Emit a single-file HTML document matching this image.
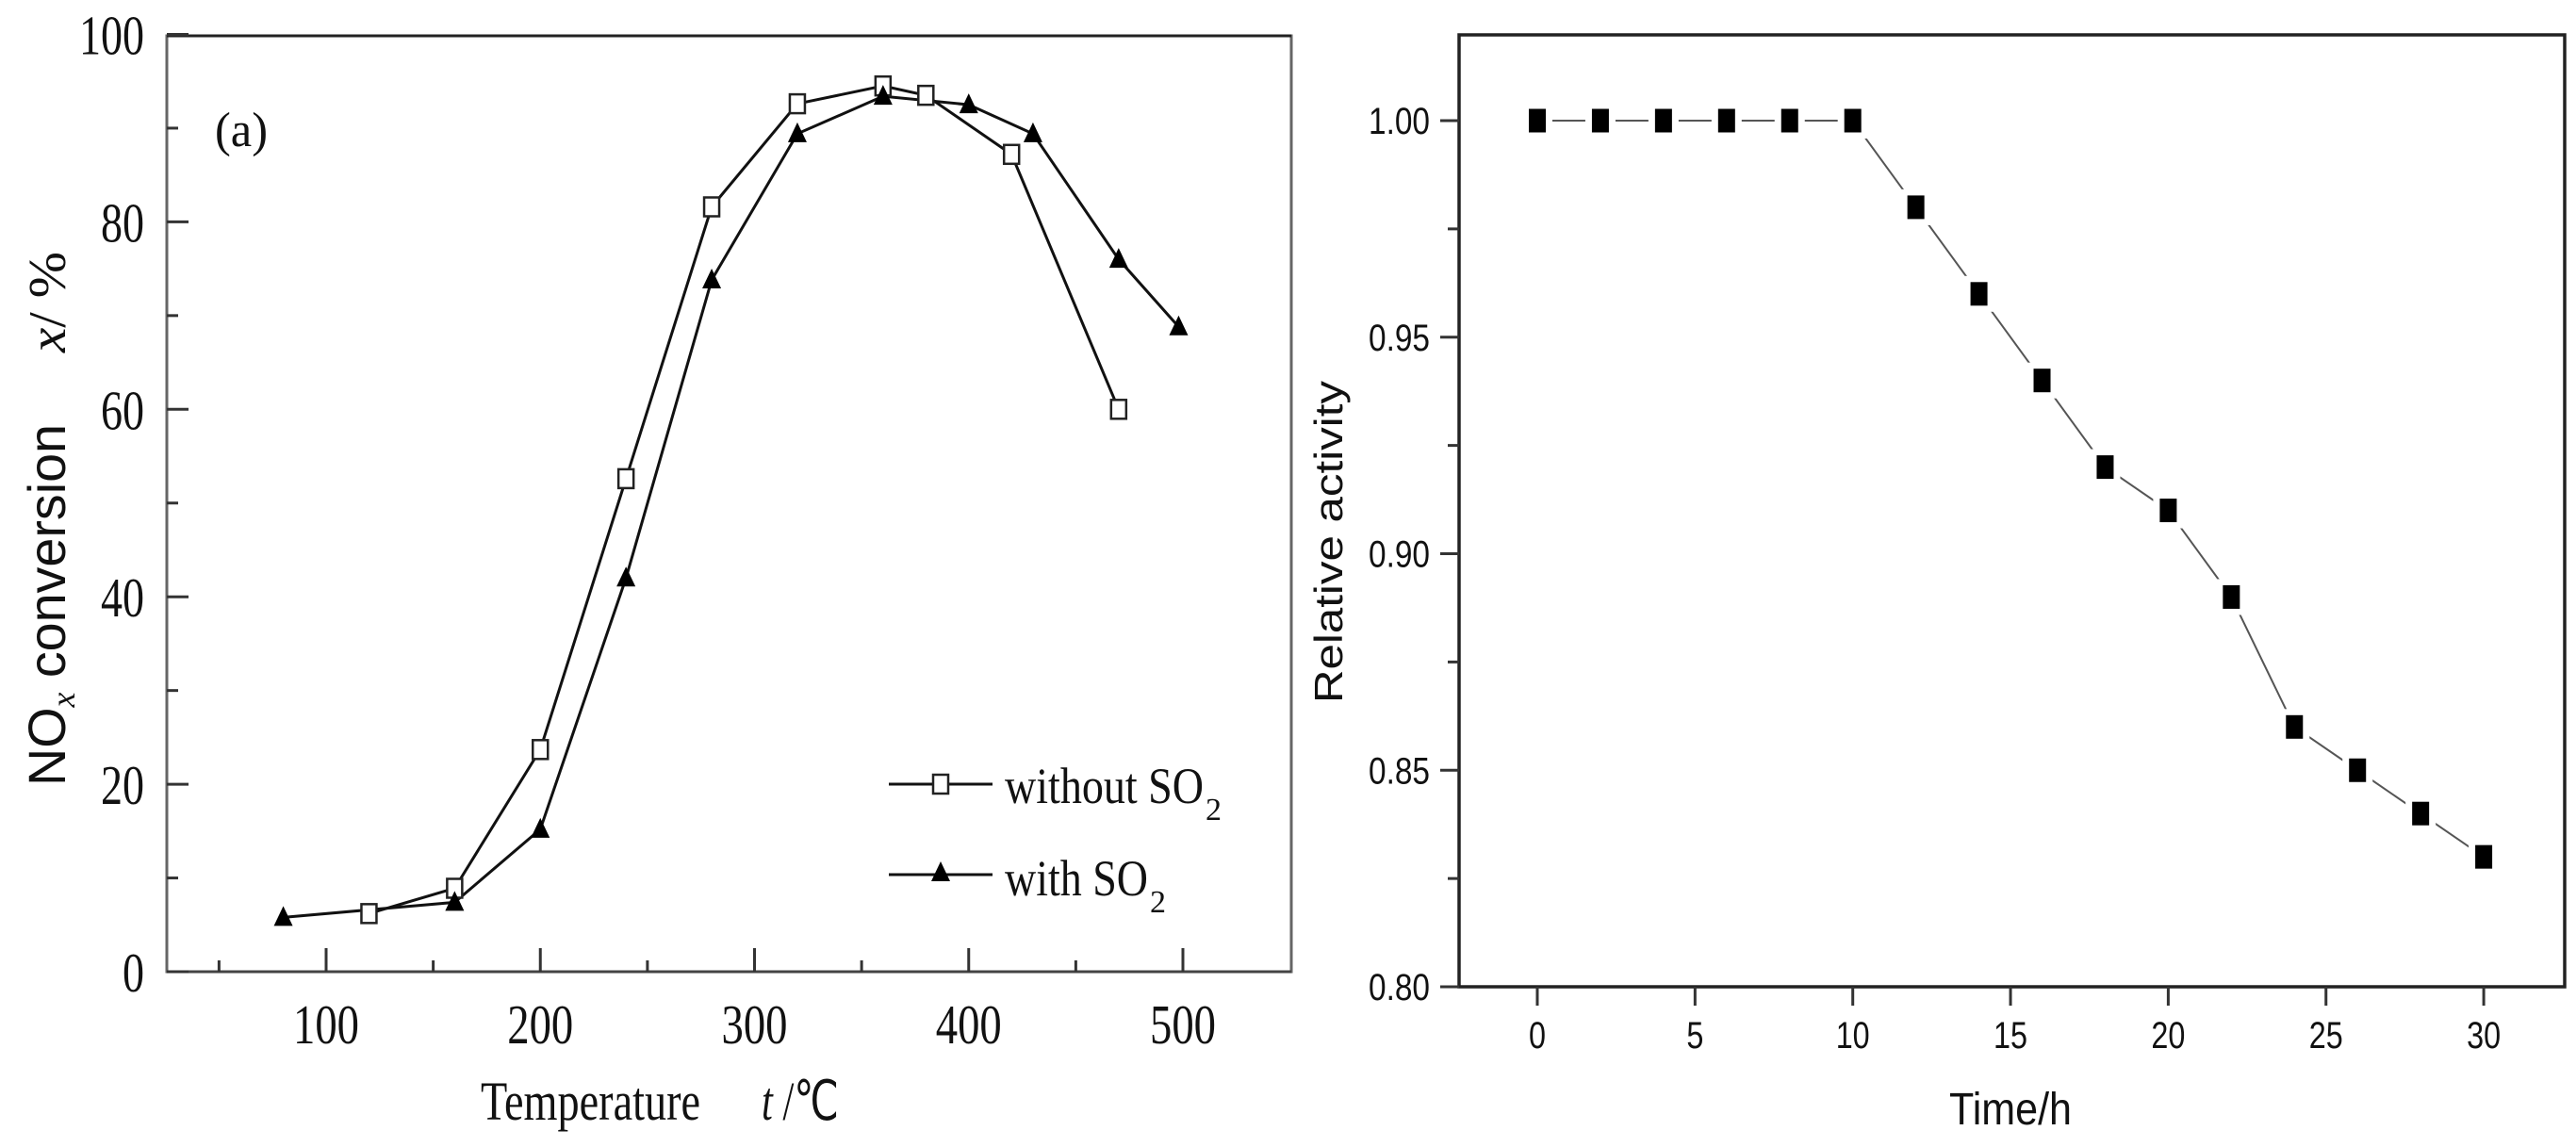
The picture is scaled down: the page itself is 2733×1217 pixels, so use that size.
<!DOCTYPE html>
<html><head><meta charset="utf-8"><style>
html,body{margin:0;padding:0;background:#fff;}
svg{display:block;}
</style></head><body>
<svg id="chart" width="2733" height="1217" viewBox="0 0 2733 1217" xmlns="http://www.w3.org/2000/svg">
  <g id="left"></g>
  <g id="right"></g>
</svg>
<script>
// ---------- Left chart data ----------
const tempWithout = [120, 160, 200, 240, 280, 320, 360, 380, 420, 470];
const convWithout = [6.2, 8.9, 23.7, 52.6, 81.6, 92.6, 94.5, 93.5, 87.2, 60];
const tempWith = [80, 160, 200, 240, 280, 320, 360, 400, 430, 470, 498];
const convWith = [5.8, 7.4, 15.2, 42, 73.8, 89.4, 93.4, 92.5, 89.4, 76, 68.8];
const leftXTicks = [100, 200, 300, 400, 500];
const leftXMinor = [50, 150, 250, 350, 450];
const leftYTicks = [0, 20, 40, 60, 80, 100];
const leftYMinor = [10, 30, 50, 70, 90];
// ---------- Right chart data ----------
const timeH = [0, 2, 4, 6, 8, 10, 12, 14, 16, 18, 20, 22, 24, 26, 28, 30];
const relAct = [1.00, 1.00, 1.00, 1.00, 1.00, 1.00, 0.98, 0.96, 0.94, 0.92, 0.91, 0.89, 0.86, 0.85, 0.84, 0.83];
const rightXTicks = [0, 5, 10, 15, 20, 25, 30];
const rightYTicks = [0.80, 0.85, 0.90, 0.95, 1.00];
const rightYLabels = ["0.80", "0.85", "0.90", "0.95", "1.00"];
const rightYMinor = [0.825, 0.875, 0.925, 0.975];

const NS = "http://www.w3.org/2000/svg";
function mk(parent, tag, attrs, text) {
  const e = document.createElementNS(NS, tag);
  for (const k in attrs) e.setAttribute(k, attrs[k]);
  if (text !== undefined) e.textContent = text;
  parent.appendChild(e);
  return e;
}

// ---------- Left ----------
const L = document.getElementById('left');
const lx = v => 346 + (v - 100) * 2.2725;
const ly = v => 1031 - v * 9.945;
const lbox = mk(L, 'rect', {x:177, y:38, width:1193, height:993, fill:'none', stroke:'#666', 'stroke-width':3});


mk(L, 'line', {x1:177, y1:38, x2:1370, y2:38, stroke:'#222', 'stroke-width':3});
mk(L, 'line', {x1:177, y1:1031, x2:1370, y2:1031, stroke:'#444', 'stroke-width':3});
leftXTicks.forEach(v => {
  const t = mk(L, 'line', {x1:lx(v), y1:1031, x2:lx(v), y2:1006, stroke:'#333', 'stroke-width':3});
  
  
  const lb = mk(L, 'text', {x:lx(v), y:1107, 'text-anchor':'middle', 'font-family':'Liberation Serif, serif', 'font-size':59, textLength:70, lengthAdjust:'spacingAndGlyphs', fill:'#111'}, String(v));
  
  
});
leftXMinor.forEach(v => {
  mk(L, 'line', {x1:lx(v), y1:1031, x2:lx(v), y2:1019, stroke:'#333', 'stroke-width':3});
});
leftYTicks.forEach(v => {
  mk(L, 'line', {x1:177, y1:ly(v), x2:200, y2:ly(v), stroke:'#333', 'stroke-width':3});
  const s = String(v);
  const lb = mk(L, 'text', {x:153, y:ly(v) + 21, 'text-anchor':'end', 'font-family':'Liberation Serif, serif', 'font-size':59, textLength:23 * s.length, lengthAdjust:'spacingAndGlyphs', fill:'#111'}, s);
  
  
});
leftYMinor.forEach(v => {
  mk(L, 'line', {x1:177, y1:ly(v), x2:189, y2:ly(v), stroke:'#333', 'stroke-width':3});
});
function pts(xs, ys, fx, fy) { return xs.map((x, i) => fx(x) + ',' + fy(ys[i])).join(' '); }
const lw = mk(L, 'polyline', {points:pts(tempWithout, convWithout, lx, ly), fill:'none', stroke:'#111', 'stroke-width':3});


const lwi = mk(L, 'polyline', {points:pts(tempWith, convWith, lx, ly), fill:'none', stroke:'#111', 'stroke-width':3});


tempWithout.forEach((t, i) => {
  const m = mk(L, 'rect', {x:lx(t) - 8, y:ly(convWithout[i]) - 10, width:16, height:20, fill:'#fff', stroke:'#222', 'stroke-width':2.5});
  
  
});
tempWith.forEach((t, i) => {
  const cx = lx(t), cy = ly(convWith[i]);
  const m = mk(L, 'polygon', {points:(cx) + ',' + (cy - 12) + ' ' + (cx - 10) + ',' + (cy + 9) + ' ' + (cx + 10) + ',' + (cy + 9), fill:'#000'});
  
  
});
// legend
const lg = mk(L, 'g', {});


mk(lg, 'line', {x1:943, y1:832, x2:1053, y2:832, stroke:'#111', 'stroke-width':3});
mk(lg, 'rect', {x:990, y:822, width:16, height:20, fill:'#fff', stroke:'#222', 'stroke-width':2.5});
const t1 = mk(lg, 'text', {x:1066, y:852, 'font-family':'Liberation Serif, serif', 'font-size':54, textLength:211, lengthAdjust:'spacingAndGlyphs', fill:'#111'}, 'without SO');


mk(lg, 'text', {x:1279, y:870, 'font-family':'Liberation Serif, serif', 'font-size':34, fill:'#111'}, '2');
mk(lg, 'line', {x1:943, y1:928, x2:1053, y2:928, stroke:'#111', 'stroke-width':3});
mk(lg, 'polygon', {points:'998,914 988,935 1008,935', fill:'#000'});
const t2 = mk(lg, 'text', {x:1066, y:950, 'font-family':'Liberation Serif, serif', 'font-size':54, textLength:152, lengthAdjust:'spacingAndGlyphs', fill:'#111'}, 'with SO');


mk(lg, 'text', {x:1220, y:968, 'font-family':'Liberation Serif, serif', 'font-size':34, fill:'#111'}, '2');
// labels
const pa = mk(L, 'text', {x:228, y:155, 'font-family':'Liberation Serif, serif', 'font-size':52, textLength:56, lengthAdjust:'spacingAndGlyphs', fill:'#111'}, '(a)');


const xl = mk(L, 'text', {x:510, y:1188, 'font-family':'Liberation Serif, serif', 'font-size':58, textLength:233, lengthAdjust:'spacingAndGlyphs', fill:'#111'}, 'Temperature');


const xl2 = mk(L, 'text', {x:808, y:1188, 'font-family':'Liberation Serif, serif', 'font-size':58, textLength:82, lengthAdjust:'spacingAndGlyphs', fill:'#111'});
mk(xl2, 'tspan', {'font-style':'italic'}, 't');
mk(xl2, 'tspan', {}, ' /\u2103');
const yl = mk(L, 'text', {transform:'translate(69,834) rotate(-90)', 'font-family':'Liberation Sans, sans-serif', 'font-size':56, fill:'#111', textLength:384, lengthAdjust:'spacingAndGlyphs'});


mk(yl, 'tspan', {}, 'NO');
mk(yl, 'tspan', {'font-family':'Liberation Serif, serif', 'font-style':'italic', 'font-size':36, dy:10}, 'x');
mk(yl, 'tspan', {dy:-10}, ' conversion');
mk(L, 'text', {transform:'translate(69,374) rotate(-90)', 'font-family':'Liberation Serif, serif', 'font-size':56, fill:'#111', textLength:107, lengthAdjust:'spacingAndGlyphs'}, '')
  .innerHTML = '<tspan font-style="italic">x</tspan>/ %';

// ---------- Right ----------
const R = document.getElementById('right');
const rx = v => 1631 + v * 33.47;
const ry = v => 1047 - (v - 0.8) * 4595;
const rbox = mk(R, 'rect', {x:1548, y:37, width:1173, height:1010, fill:'none', stroke:'#222', 'stroke-width':3.5});


rightXTicks.forEach(v => {
  mk(R, 'line', {x1:rx(v), y1:1047, x2:rx(v), y2:1067, stroke:'#333', 'stroke-width':3});
  const lb = mk(R, 'text', {x:rx(v), y:1112, 'text-anchor':'middle', 'font-family':'Liberation Sans, sans-serif', 'font-size':40, textLength:v < 10 ? 18 : 36, lengthAdjust:'spacingAndGlyphs', fill:'#111'}, String(v));
  
  
});
rightYTicks.forEach((v, i) => {
  mk(R, 'line', {x1:1528, y1:ry(v), x2:1548, y2:ry(v), stroke:'#333', 'stroke-width':3});
  const lb = mk(R, 'text', {x:1517, y:ry(v) + 14, 'text-anchor':'end', 'font-family':'Liberation Sans, sans-serif', 'font-size':40, textLength:65, lengthAdjust:'spacingAndGlyphs', fill:'#111'}, rightYLabels[i]);
  
  
});
rightYMinor.forEach(v => {
  mk(R, 'line', {x1:1536, y1:ry(v), x2:1548, y2:ry(v), stroke:'#333', 'stroke-width':3});
});
const rl = mk(R, 'polyline', {points:pts(timeH, relAct, rx, ry), fill:'none', stroke:'#555', 'stroke-width':2});


timeH.forEach((t, i) => {
  mk(R, 'rect', {x:rx(t) - 16, y:ry(relAct[i]) - 19, width:32, height:38, fill:'#fff'});
});
timeH.forEach((t, i) => {
  const m = mk(R, 'rect', {x:rx(t) - 9, y:ry(relAct[i]) - 12.5, width:18, height:25, fill:'#000'});
  
  
});
const rxl = mk(R, 'text', {x:2133, y:1193, 'text-anchor':'middle', 'font-family':'Liberation Sans, sans-serif', 'font-size':48, textLength:130, lengthAdjust:'spacingAndGlyphs', fill:'#111'}, 'Time/h');


const ryl = mk(R, 'text', {transform:'translate(1424,746) rotate(-90)', 'font-family':'Liberation Sans, sans-serif', 'font-size':42, textLength:342, lengthAdjust:'spacingAndGlyphs', fill:'#111'}, 'Relative activity');


</script>
</body></html>
